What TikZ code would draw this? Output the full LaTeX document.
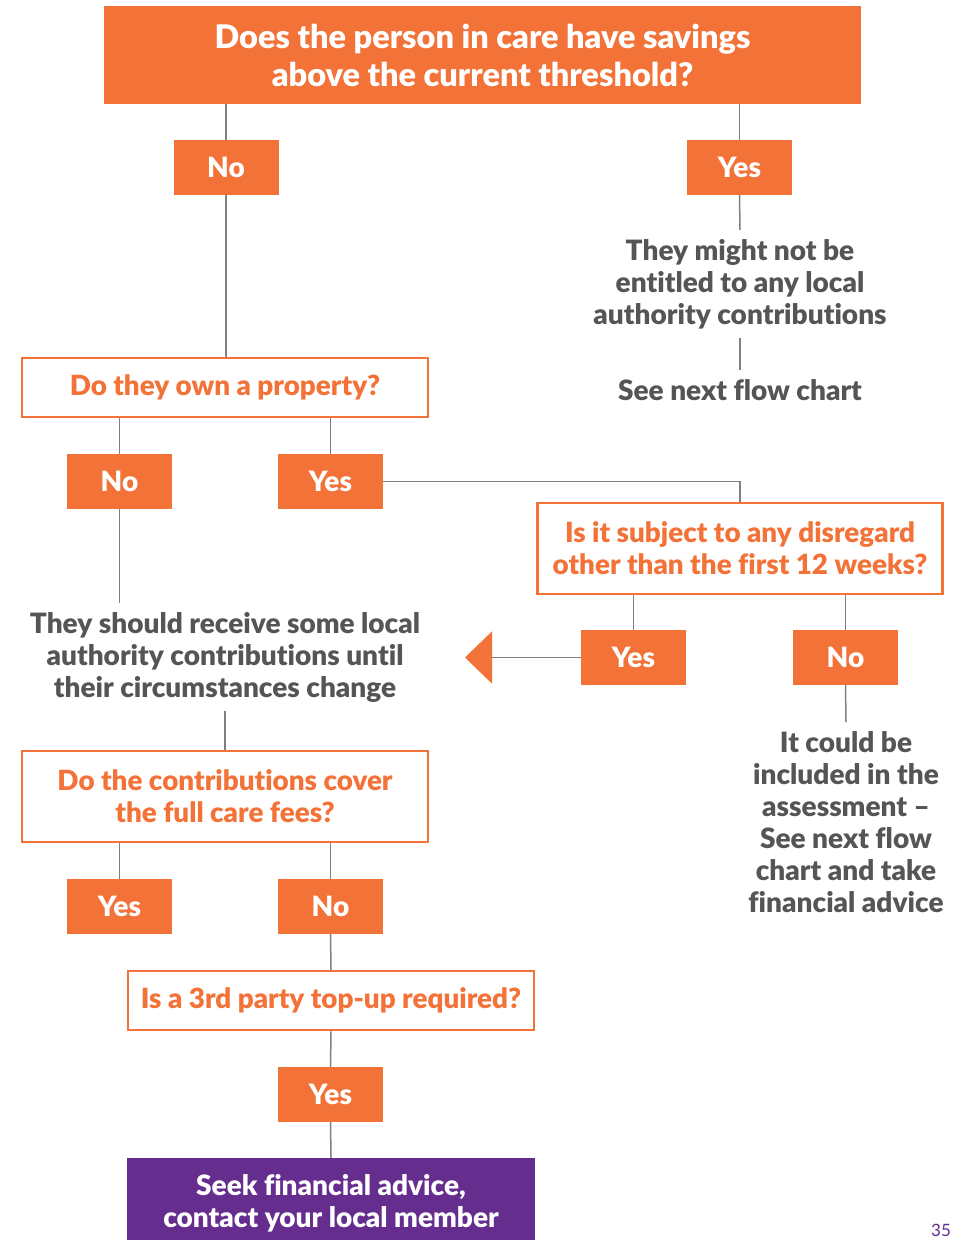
\documentclass[tikz,border=0pt]{standalone}
\usepackage{fontspec}
\setmainfont{Lato}[BoldFont={Lato Black}, Ligatures=NoCommon]
\usetikzlibrary{arrows.meta}

\definecolor{careorange}{HTML}{F37238}
\definecolor{carepurple}{HTML}{652D8E}
\definecolor{infogrey}{HTML}{555555}
\definecolor{linkgrey}{HTML}{808080}

\tikzset{
  headbox/.style={fill=careorange, text=white, inner sep=0pt, align=center,
    font=\bfseries\fontsize{32.5}{38}\selectfont},
  ansbox/.style={fill=careorange, text=white, inner sep=0pt,
    minimum width=105pt, minimum height=55pt,
    font=\bfseries\fontsize{28}{32}\selectfont},
  qbox/.style={draw=careorange, line width=2.5pt, fill=white, text=careorange,
    inner sep=0pt, align=center, font=\bfseries\fontsize{27.8}{32}\selectfont},
  info/.style={text=infogrey, inner sep=9pt, align=center,
    font=\bfseries\fontsize{28}{32}\selectfont},
  link/.style={draw=linkgrey, line width=1.5pt}
}

\begin{document}
\begin{tikzpicture}[x=1pt,y=-1pt]
  \useasboundingbox (0,0) rectangle (966,1240);

  \node[headbox, minimum width=757pt, minimum height=98pt] (savings) at (482.5,55)
    {Does the person in care have savings\\above the current threshold?};
  \node[ansbox] (no1) at (226,167.5) {No};
  \node[ansbox] (yes1) at (739.5,167.5) {Yes};
  \node[info] (notentitled) at (740,284)
    {They might not be\\entitled to any local\\authority contributions};
  \node[info] (nextchart) at (740,390) {See next flow chart};

  \node[qbox, minimum width=406pt, minimum height=59pt] (property) at (225,387.5)
    {Do they own a property?};
  \node[ansbox] (no2) at (119.5,481.5) {No};
  \node[ansbox] (yes2) at (330.5,481.5) {Yes};

  \node[qbox, minimum width=405pt, minimum height=91pt] (disregard) at (740,548.5)
    {Is it subject to any disregard\\other than the first 12 weeks?};
  \node[ansbox] (yes3) at (633.5,657.5) {Yes};
  \node[ansbox] (no3) at (845.5,657.5) {No};
  \coordinate (backtip) at (465,657.5);
  \node[info] (couldbe) at (846,822)
    {It could be\\included in the\\assessment --\\See next flow\\chart and take\\financial advice};

  \node[info] (receive) at (225,657)
    {They should receive some local\\authority contributions until\\their circumstances change};
  \node[qbox, minimum width=406pt, minimum height=91pt] (contributions) at (225,796.5)
    {Do the contributions cover\\the full care fees?};
  \node[ansbox] (yes4) at (119.5,906.5) {Yes};
  \node[ansbox] (no4) at (330.5,906.5) {No};

  \node[qbox, minimum width=406pt, minimum height=59pt] (topup) at (331,1000.5)
    {Is a 3rd party top-up required?};
  \node[ansbox] (yes5) at (330.5,1094.5) {Yes};
  \node[headbox, fill=carepurple, minimum width=408pt, minimum height=90pt,
    font=\bfseries\fontsize{28}{32}\selectfont] (advice) at (331,1203)
    {Seek financial advice,\\contact your local member};

  \node[text=carepurple, inner sep=0pt, font=\fontsize{17}{18}\selectfont] (pagenum)
    at (941,1230) {35};

  % connectors
  \draw[link] (no1 |- savings.south) -- (no1.north);
  \draw[link] (yes1 |- savings.south) -- (yes1.north);
  \draw[link] (no1.south) -- (no1 |- property.north);
  \draw[link] (yes1.south) -- (notentitled.north);
  \draw[link] (notentitled.south) -- (nextchart.north);
  \draw[link] (no2 |- property.south) -- (no2.north);
  \draw[link] (yes2 |- property.south) -- (yes2.north);
  \draw[link] (yes2.east) -| (disregard.north);
  \draw[link] (yes3 |- disregard.south) -- (yes3.north);
  \draw[link] (no3 |- disregard.south) -- (no3.north);
  \draw[link, -{Triangle[length=27pt, width=52pt, color=careorange]}] (yes3.west) -- (backtip);
  \draw[link] (no3.south) -- (couldbe.north);
  \draw[link] (no2.south) -- (no2 |- receive.north);
  \draw[link] (receive.south) -- (contributions.north);
  \draw[link] (yes4 |- contributions.south) -- (yes4.north);
  \draw[link] (no4 |- contributions.south) -- (no4.north);
  \draw[link] (no4.south) -- (topup.north);
  \draw[link] (topup.south) -- (yes5.north);
  \draw[link] (yes5.south) -- (advice.north);
\end{tikzpicture}
\end{document}
